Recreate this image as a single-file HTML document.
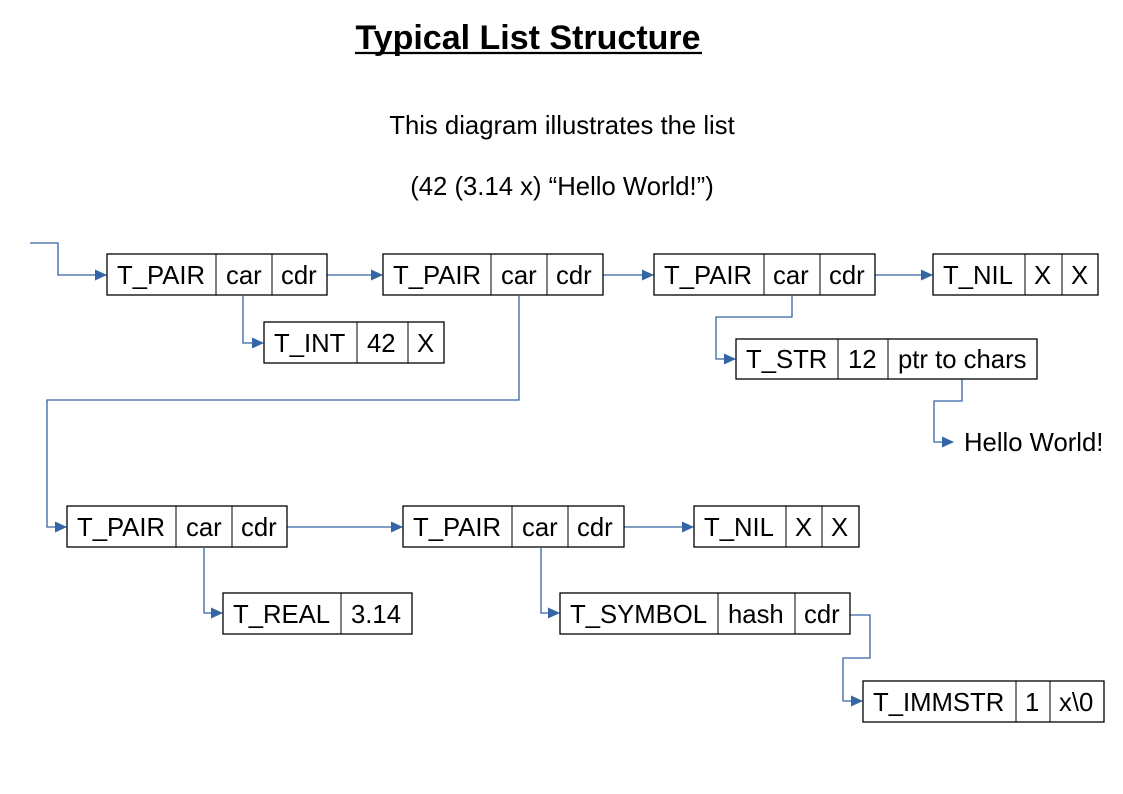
<!DOCTYPE html>
<html><head><meta charset="utf-8"><style>
body{margin:0;background:#fff}
svg{display:block}
text{font-family:"Liberation Sans",sans-serif;fill:#000}
.b{fill:#fff;stroke:#000;stroke-width:1.3}
.l{fill:none;stroke:#3465a4;stroke-width:1.3}
.t{font-size:25.7px}
</style></head><body>
<svg width="1123" height="794" viewBox="0 0 1123 794">
<defs><marker id="a" markerWidth="12" markerHeight="12" refX="11" refY="6" orient="auto" markerUnits="userSpaceOnUse"><path d="M0,0.5 L12,6 L0,11.5z" fill="#3465a4"/></marker></defs>
<text x="528" y="49" font-size="34" font-weight="bold" text-anchor="middle">Typical List Structure</text>
<line x1="355" y1="53" x2="702" y2="53" stroke="#000" stroke-width="2.2"/>
<text x="562" y="134" font-size="25.7" text-anchor="middle">This diagram illustrates the list</text>
<text x="562" y="195" font-size="25.7" text-anchor="middle">(42 (3.14 x) “Hello World!”)</text>

<g class="l">
<path d="M30,243H58V275H106" marker-end="url(#a)"/>
<path d="M327,275H382" marker-end="url(#a)"/>
<path d="M243,296V343H263" marker-end="url(#a)"/>
<path d="M519,296V400H47V527H66" marker-end="url(#a)"/>
<path d="M603,275H653" marker-end="url(#a)"/>
<path d="M875,275H932" marker-end="url(#a)"/>
<path d="M792,296V317H716V359H735" marker-end="url(#a)"/>
<path d="M962,379V401H934V442H953" marker-end="url(#a)"/>
<path d="M287,527H402" marker-end="url(#a)"/>
<path d="M624,527H693" marker-end="url(#a)"/>
<path d="M204,548V613H222" marker-end="url(#a)"/>
<path d="M541,548V613H559" marker-end="url(#a)"/>
<path d="M850,615H870V658H843V701H862" marker-end="url(#a)"/>
</g>

<g class="t">
<rect class="b" x="107" y="254" width="220" height="41"/><line x1="216" y1="254" x2="216" y2="295" stroke="#000"/><line x1="272" y1="254" x2="272" y2="295" stroke="#000"/>
<text x="117" y="284">T_PAIR</text><text x="226" y="284">car</text><text x="281" y="284">cdr</text>
<rect class="b" x="383" y="254" width="220" height="41"/><line x1="491" y1="254" x2="491" y2="295" stroke="#000"/><line x1="547" y1="254" x2="547" y2="295" stroke="#000"/>
<text x="393" y="284">T_PAIR</text><text x="501" y="284">car</text><text x="556" y="284">cdr</text>
<rect class="b" x="654" y="254" width="221" height="41"/><line x1="764" y1="254" x2="764" y2="295" stroke="#000"/><line x1="820" y1="254" x2="820" y2="295" stroke="#000"/>
<text x="664" y="284">T_PAIR</text><text x="773" y="284">car</text><text x="829" y="284">cdr</text>
<rect class="b" x="933" y="254" width="165" height="41"/><line x1="1025" y1="254" x2="1025" y2="295" stroke="#000"/><line x1="1062" y1="254" x2="1062" y2="295" stroke="#000"/>
<text x="943" y="284">T_NIL</text><text x="1034" y="284">X</text><text x="1071" y="284">X</text>
<rect class="b" x="264" y="322" width="180" height="41"/><line x1="357" y1="322" x2="357" y2="363" stroke="#000"/><line x1="408" y1="322" x2="408" y2="363" stroke="#000"/>
<text x="274" y="352">T_INT</text><text x="367" y="352">42</text><text x="417" y="352">X</text>
<rect class="b" x="736" y="339" width="301" height="40"/><line x1="838" y1="339" x2="838" y2="379" stroke="#000"/><line x1="888" y1="339" x2="888" y2="379" stroke="#000"/>
<text x="746" y="368">T_STR</text><text x="848" y="368">12</text><text x="898" y="368">ptr to chars</text>
<text x="964" y="451">Hello World!</text>
<rect class="b" x="67" y="506" width="220" height="41"/><line x1="176" y1="506" x2="176" y2="547" stroke="#000"/><line x1="232" y1="506" x2="232" y2="547" stroke="#000"/>
<text x="77" y="536">T_PAIR</text><text x="186" y="536">car</text><text x="241" y="536">cdr</text>
<rect class="b" x="403" y="506" width="221" height="41"/><line x1="512" y1="506" x2="512" y2="547" stroke="#000"/><line x1="568" y1="506" x2="568" y2="547" stroke="#000"/>
<text x="413" y="536">T_PAIR</text><text x="522" y="536">car</text><text x="577" y="536">cdr</text>
<rect class="b" x="694" y="506" width="165" height="41"/><line x1="786" y1="506" x2="786" y2="547" stroke="#000"/><line x1="822" y1="506" x2="822" y2="547" stroke="#000"/>
<text x="704" y="536">T_NIL</text><text x="795" y="536">X</text><text x="831" y="536">X</text>
<rect class="b" x="223" y="593" width="189" height="41"/><line x1="341" y1="593" x2="341" y2="634" stroke="#000"/>
<text x="233" y="623">T_REAL</text><text x="351" y="623">3.14</text>
<rect class="b" x="560" y="593" width="290" height="41"/><line x1="718" y1="593" x2="718" y2="634" stroke="#000"/><line x1="795" y1="593" x2="795" y2="634" stroke="#000"/>
<text x="570" y="623">T_SYMBOL</text><text x="728" y="623">hash</text><text x="804" y="623">cdr</text>
<rect class="b" x="863" y="681" width="241" height="41"/><line x1="1016" y1="681" x2="1016" y2="722" stroke="#000"/><line x1="1050" y1="681" x2="1050" y2="722" stroke="#000"/>
<text x="873" y="711">T_IMMSTR</text><text x="1025" y="711">1</text><text x="1059" y="711">x\0</text>
</g>
</svg>
</body></html>
